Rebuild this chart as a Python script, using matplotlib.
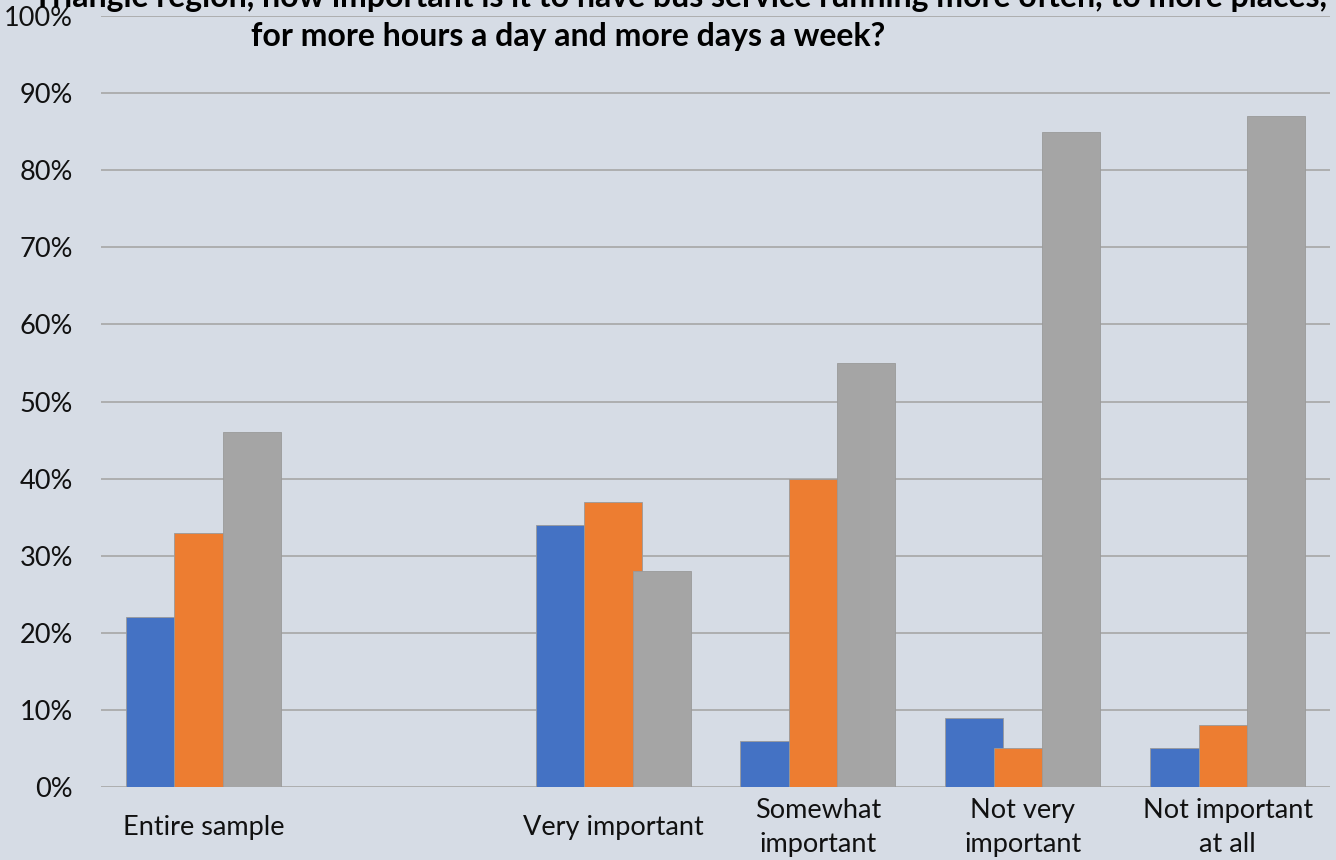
import numpy as np
import matplotlib
matplotlib.use("Agg")
import matplotlib.pyplot as plt

plt.rcParams['font.family'] = ['Lato', 'DejaVu Sans']

categories = ['Entire sample', '', 'Very important', 'Somewhat\nimportant',
              'Not very\nimportant', 'Not important\nat all']
series_blue = [22, np.nan, 34, 6, 9, 5]
series_orange = [33, np.nan, 37, 40, 5, 8]
series_gray = [46, np.nan, 28, 55, 85, 87]
yticks = [0, 10, 20, 30, 40, 50, 60, 70, 80, 90, 100]

title_line1 = "Triangle region, how important is it to have bus service running more often, to more places,"
title_line2 = "for more hours a day and more days a week?"

bg = '#D6DCE5'
fig = plt.figure(figsize=(13.36, 8.6), dpi=100, facecolor=bg)
ax = fig.add_axes([101/1336, (860-787)/860, (1330-101)/1336, (787-16)/860])
ax.set_facecolor(bg)

x = np.arange(len(categories))
step = 0.237
w = 0.283
for i, (vals, col) in enumerate([(series_blue, '#4472C4'),
                                 (series_orange, '#ED7D31'),
                                 (series_gray, '#A5A5A5')]):
    ax.bar(x + (i - 1) * step, vals, width=w, color=col,
           edgecolor='#9a9a9a', linewidth=0.6, zorder=3)

ax.set_xlim(-0.5, len(categories) - 0.5)
ax.set_ylim(0, 100)
ax.set_yticks(yticks)
ax.set_yticklabels([f'{v}%' for v in yticks], fontsize=19.5, color='#111111')
ax.set_xticks(x)
ax.set_xticklabels(categories, fontsize=19.5, color='#111111', linespacing=1.45)
for lab in ax.get_xticklabels():
    lab.set_va('center')
ax.tick_params(axis='both', length=0)
ax.tick_params(axis='y', pad=20)
ax.tick_params(axis='x', pad=29)
ax.grid(axis='y', color='#A6A6A6', linewidth=1.2, zorder=0)
for s in ax.spines.values():
    s.set_visible(False)

fig.text(1327/1336, 1 - 7/860, title_line1, ha='right', va='baseline',
         fontsize=23, fontweight='bold', color='black')
fig.text(568/1336, 1 - 46/860, title_line2, ha='center', va='baseline',
         fontsize=23, fontweight='bold', color='black')

fig.savefig('out.png', dpi=100, facecolor=bg)
